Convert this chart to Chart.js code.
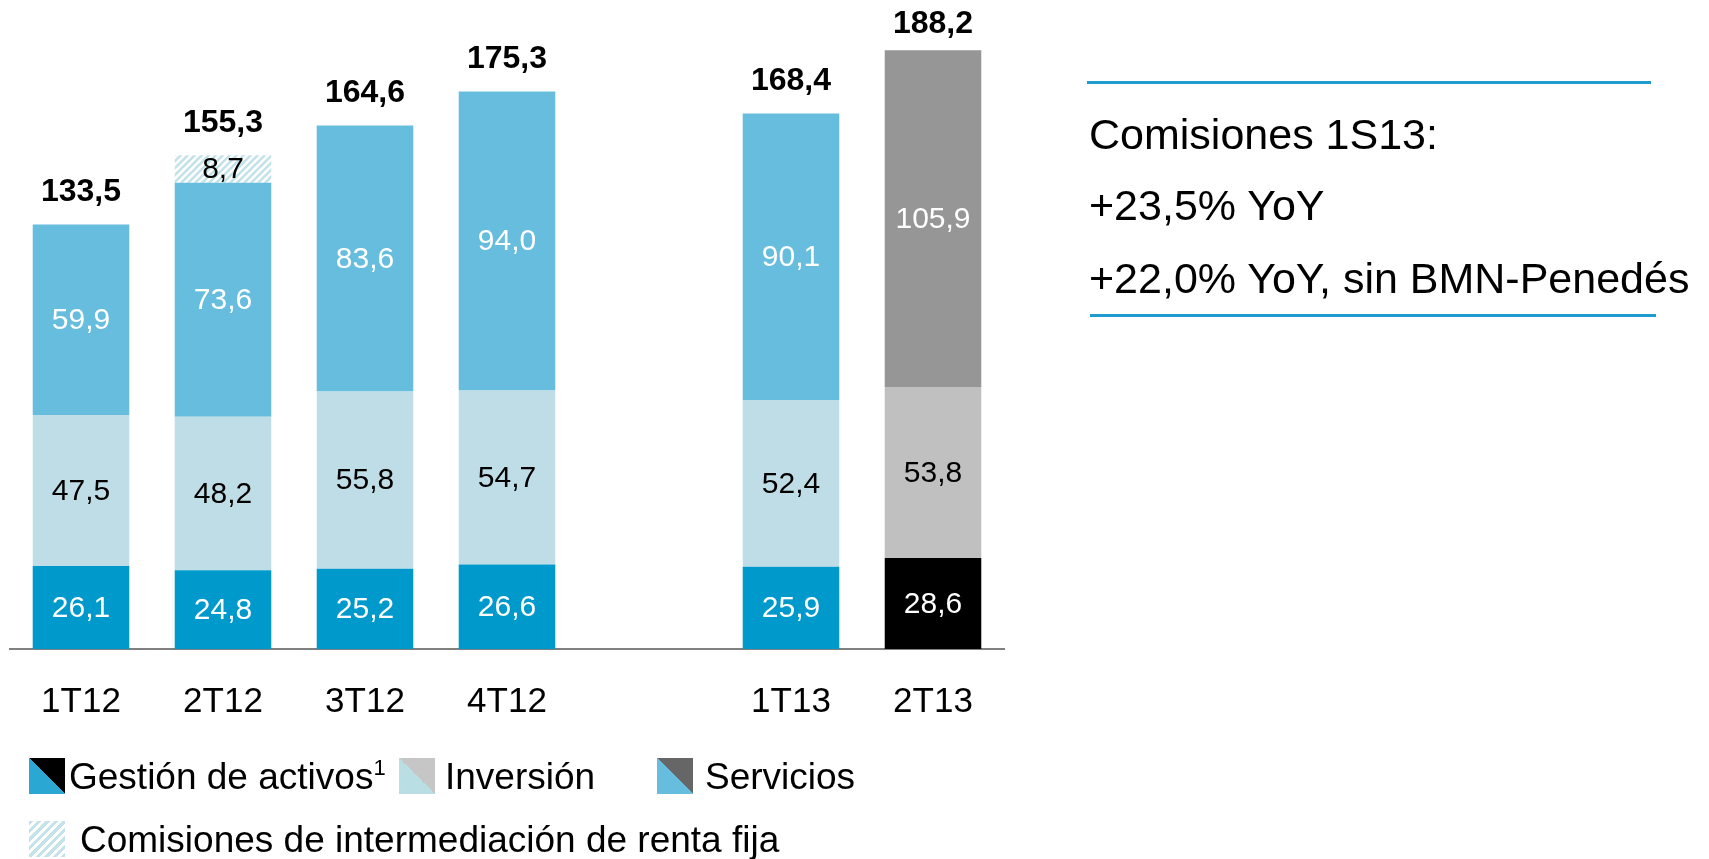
<!DOCTYPE html>
<html>
<head>
<meta charset="utf-8">
<script src="https://cdn.jsdelivr.net/npm/chart.js@4"></script>
<style>
  body { margin: 0; background: #fff; font-family: "Liberation Sans", Arial, sans-serif; }
  #wrap { position: relative; width: 1709px; height: 859px; overflow: hidden; }
  #chart { position: absolute; left: 0; top: 0; }
  .rule { position: absolute; height: 3px; background: #1e9cd0; }
  .note { position: absolute; left: 1089px; font-size: 43px; line-height: 50px; color: #000; white-space: nowrap; }
  .sw { position: absolute; width: 36px; height: 36px; }
  .lg { position: absolute; font-size: 37px; line-height: 44px; color: #000; white-space: nowrap; }
  .lg sup { font-size: 22px; vertical-align: 14px; line-height: 0; }
</style>
</head>
<body>
<div id="wrap">
  <canvas id="chart" width="1709" height="859"></canvas>

  <div class="rule" style="left:1087px; top:81px; width:564px;"></div>
  <div class="note" style="top:109px;">Comisiones 1S13:</div>
  <div class="note" style="top:180px;">+23,5% YoY</div>
  <div class="note" style="top:253px;">+22,0% YoY, sin BMN-Penedés</div>
  <div class="rule" style="left:1090px; top:314px; width:566px;"></div>

  <div class="sw" style="left:29px; top:758px; background:linear-gradient(to top right, #2aa8d3 50%, #000 50%);"></div>
  <div class="lg" style="left:69px; top:755px;">Gestión de activos<sup>1</sup></div>
  <div class="sw" style="left:399px; top:758px; background:linear-gradient(to top right, #b9dfe5 50%, #c6c6c6 50%);"></div>
  <div class="lg" style="left:445px; top:755px;">Inversión</div>
  <div class="sw" style="left:657px; top:758px; background:linear-gradient(to top right, #66bddd 50%, #666 50%);"></div>
  <div class="lg" style="left:705px; top:755px;">Servicios</div>
  <div class="sw" style="left:29px; top:821px; background:repeating-linear-gradient(135deg, #c4e2ea 0 3px, #fff 3px 6px);"></div>
  <div class="lg" style="left:80px; top:818px;">Comisiones de intermediación de renta fija</div>
</div>

<script>
const periods = ['1T12', '2T12', '3T12', '4T12', '', '1T13', '2T13'];
const gestion = [26.1, 24.8, 25.2, 26.6, null, 25.9, 28.6];
const inversion = [47.5, 48.2, 55.8, 54.7, null, 52.4, 53.8];
const servicios = [59.9, 73.6, 83.6, 94.0, null, 90.1, 105.9];
const rentaFija = [null, 8.7, null, null, null, null, null];
const totals = [133.5, 155.3, 164.6, 175.3, null, 168.4, 188.2];

// last quarter is shown in greys
function perBar(normal, last) {
    return periods.map((p, i) => i === periods.length - 1 ? last : normal);
}

function hatchPattern() {
    const tile = document.createElement('canvas');
    tile.width = 7;
    tile.height = 7;
    const c = tile.getContext('2d');
    c.fillStyle = '#fff';
    c.fillRect(0, 0, 7, 7);
    c.strokeStyle = '#c4e2ea';
    c.lineWidth = 2.6;
    c.beginPath();
    c.moveTo(-1, 1); c.lineTo(1, -1);
    c.moveTo(0, 7); c.lineTo(7, 0);
    c.moveTo(6, 8); c.lineTo(8, 6);
    c.stroke();
    return c.createPattern(tile, 'repeat');
}

const fmt = (v) => v.toFixed(1).replace('.', ',');

const valueLabels = {
    id: 'valueLabels',
    afterDatasetsDraw(chart) {
        const ctx = chart.ctx;
        ctx.save();
        ctx.textAlign = 'center';
        ctx.textBaseline = 'middle';
        ctx.font = '30px "Liberation Sans", Arial, sans-serif';
        chart.data.datasets.forEach((ds, di) => {
            const meta = chart.getDatasetMeta(di);
            meta.data.forEach((bar, i) => {
                const v = ds.data[i];
                if (v == null) return;
                ctx.fillStyle = Array.isArray(ds.labelColor) ? ds.labelColor[i] : ds.labelColor;
                ctx.fillText(fmt(v), bar.x, (bar.y + bar.base) / 2 + 1);
            });
        });

        // totals above each column
        ctx.font = 'bold 32px "Liberation Sans", Arial, sans-serif';
        ctx.fillStyle = '#000';
        const yScale = chart.scales.y;
        const xScale = chart.scales.x;
        totals.forEach((t, i) => {
            if (t == null) return;
            const y = Math.max(yScale.getPixelForValue(t) - 32, 24);
            ctx.fillText(fmt(t), xScale.getPixelForValue(i), y);
        });
        ctx.restore();
    }
};

new Chart(document.getElementById('chart'), {
    type: 'bar',
    data: {
        labels: periods,
        datasets: [
            {
                label: 'Gestión de activos',
                data: gestion,
                backgroundColor: perBar('#0099cc', '#000000'),
                labelColor: '#fff'
            },
            {
                label: 'Inversión',
                data: inversion,
                backgroundColor: perBar('#bfdde6', '#c0c0c0'),
                labelColor: '#000'
            },
            {
                label: 'Servicios',
                data: servicios,
                backgroundColor: perBar('#66bddd', '#969696'),
                labelColor: '#fff'
            },
            {
                label: 'Comisiones de intermediación de renta fija',
                data: rentaFija,
                backgroundColor: hatchPattern(),
                labelColor: '#000'
            }
        ]
    },
    options: {
        responsive: false,
        animation: false,
        layout: { padding: { left: 10, right: 705, top: 13, bottom: 0 } },
        datasets: { bar: { barPercentage: 0.68, categoryPercentage: 1 } },
        plugins: {
            legend: { display: false },
            tooltip: { enabled: false }
        },
        scales: {
            x: {
                stacked: true,
                grid: { display: false, drawTicks: false },
                border: { display: true, color: '#808080', width: 2 },
                ticks: {
                    color: '#000',
                    padding: 32,
                    font: { family: '"Liberation Sans", Arial, sans-serif', size: 35 }
                },
                afterFit: (scale) => { scale.height = 210; }
            },
            y: {
                stacked: true,
                display: false,
                min: 0,
                max: 200
            }
        }
    },
    plugins: [valueLabels]
});
</script>
</body>
</html>
